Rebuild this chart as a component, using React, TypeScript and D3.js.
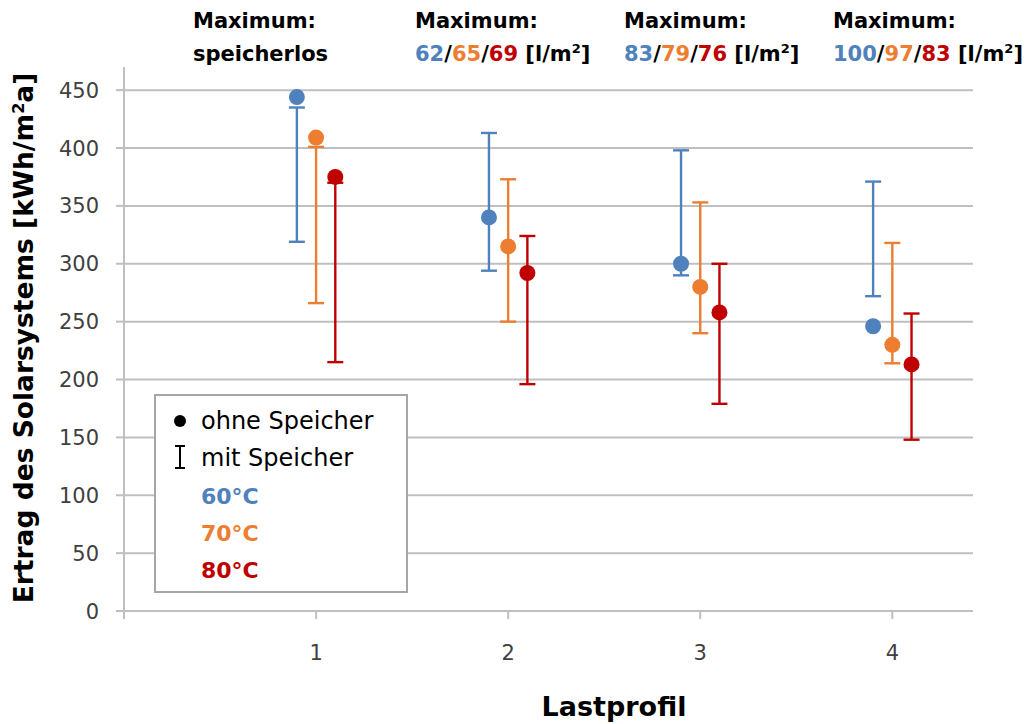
import React from 'react';
import * as d3 from 'd3';

// Lastprofil categories
const profiles = [1, 2, 3, 4];
const yTicks = [0, 50, 100, 150, 200, 250, 300, 350, 400, 450];

const seriesNames = ['60°C', '70°C', '80°C'];
const seriesColors = ['#4f81bd', '#ed7d31', '#c00000'];
const seriesOffsets = [-0.1, 0, 0.1];

// ohne Speicher (dots)
const dots60 = [444, 340, 300, 246];
const dots70 = [409, 315, 280, 230];
const dots80 = [375, 292, 258, 213];

// mit Speicher (bars, high / low)
const high60 = [435, 413, 398, 371];
const low60 = [319, 294, 290, 272];
const high70 = [401, 373, 353, 318];
const low70 = [266, 250, 240, 214];
const high80 = [370, 324, 300, 257];
const low80 = [215, 196, 179, 148];

const maxValues = [null, [62, 65, 69], [83, 79, 76], [100, 97, 83]];

const W = 1028;
const H = 724;
const font = "'DejaVu Sans', Verdana, sans-serif";

const App = () => {
  const x = d3.scaleLinear().domain([0, 4.42]).range([124, 973]);
  const y = d3.scaleLinear().domain([0, 470]).range([611, 67]);

  const series = [
    { dots: dots60, high: high60, low: low60 },
    { dots: dots70, high: high70, low: low70 },
    { dots: dots80, high: high80, low: low80 },
  ];

  const grid = '#bfbfbf';
  const labelX = [193, 415, 624, 833];

  return (
    <svg width={W} height={H} style={{ position: 'absolute', left: 0, top: 0 }} fontFamily={font}>
      <rect width={W} height={H} fill="#fff" />

      {/* gridlines */}
      {yTicks.slice(1).map(t => (
        <line key={t} x1={x(0)} x2={x(4.42)} y1={y(t)} y2={y(t)} stroke={grid} strokeWidth={2} />
      ))}

      {/* axes */}
      <line x1={x(0)} x2={x(0)} y1={y(470)} y2={y(0) + 8} stroke={grid} strokeWidth={2} />
      <line x1={x(0) - 8} x2={x(4.42)} y1={y(0)} y2={y(0)} stroke={grid} strokeWidth={2} />
      {yTicks.map(t => (
        <g key={t}>
          <line x1={x(0) - 8} x2={x(0)} y1={y(t)} y2={y(t)} stroke={grid} strokeWidth={2} />
          <text x={99} y={y(t)} dy="0.36em" textAnchor="end" fontSize={21} fill="#404040">{t}</text>
        </g>
      ))}
      {profiles.map(p => (
        <g key={p}>
          <line x1={x(p)} x2={x(p)} y1={y(0)} y2={y(0) + 8} stroke={grid} strokeWidth={2} />
          <text x={x(p)} y={660} textAnchor="middle" fontSize={21} fill="#404040">{p}</text>
        </g>
      ))}

      {/* error bars */}
      {series.map((s, si) =>
        profiles.map((p, i) => {
          const cx = x(p + seriesOffsets[si]);
          return (
            <g key={`b${si}-${i}`} stroke={seriesColors[si]} strokeWidth={2.4}>
              <line x1={cx} x2={cx} y1={y(s.high[i])} y2={y(s.low[i])} />
              <line x1={cx - 8} x2={cx + 8} y1={y(s.high[i])} y2={y(s.high[i])} />
              <line x1={cx - 8} x2={cx + 8} y1={y(s.low[i])} y2={y(s.low[i])} />
            </g>
          );
        })
      )}

      {/* dots */}
      {series.map((s, si) =>
        profiles.map((p, i) => (
          <circle key={`d${si}-${i}`} cx={x(p + seriesOffsets[si])} cy={y(s.dots[i])} r={8} fill={seriesColors[si]} />
        ))
      )}

      {/* Maximum annotations */}
      {maxValues.map((vals, i) => (
        <g key={i} fontWeight="bold" fontSize={21}>
          <text x={labelX[i]} y={28} fill="#000">Maximum:</text>
          <text x={labelX[i]} y={61} fill="#000">
            {vals === null ? 'speicherlos' : (
              <>
                <tspan fill={seriesColors[0]}>{vals[0]}</tspan>
                <tspan>/</tspan>
                <tspan fill={seriesColors[1]}>{vals[1]}</tspan>
                <tspan>/</tspan>
                <tspan fill={seriesColors[2]}>{vals[2]}</tspan>
                <tspan> [l/m</tspan>
                <tspan dy={-8} fontSize={13}>2</tspan>
                <tspan dy={8}>]</tspan>
              </>
            )}
          </text>
        </g>
      ))}

      {/* legend */}
      <rect x={155} y={395} width={252} height={197} fill="#fff" stroke="#a6a6a6" strokeWidth={2} />
      <circle cx={180} cy={421} r={6} fill="#000" />
      <text x={201} y={429} fontSize={24} fill="#000">ohne Speicher</text>
      <g stroke="#000" strokeWidth={2}>
        <line x1={180} x2={180} y1={446} y2={468} />
        <line x1={175} x2={185} y1={446} y2={446} />
        <line x1={175} x2={185} y1={468} y2={468} />
      </g>
      <text x={201} y={466} fontSize={24} fill="#000">mit Speicher</text>
      {seriesNames.map((n, i) => (
        <text key={n} x={201} y={504 + i * 37} fontSize={22} fontWeight="bold" fill={seriesColors[i]}>{n}</text>
      ))}

      {/* axis titles */}
      <text x={614} y={716} textAnchor="middle" fontSize={27} fontWeight="bold" fill="#000">Lastprofil</text>
      <text transform="translate(33,338) rotate(-90)" textAnchor="middle" fontSize={26.5} fontWeight="bold" fill="#000">
        Ertrag des Solarsystems [kWh/m<tspan dy={-9} fontSize={16}>2</tspan><tspan dy={9}>a]</tspan>
      </text>
    </svg>
  );
};

export default App;
